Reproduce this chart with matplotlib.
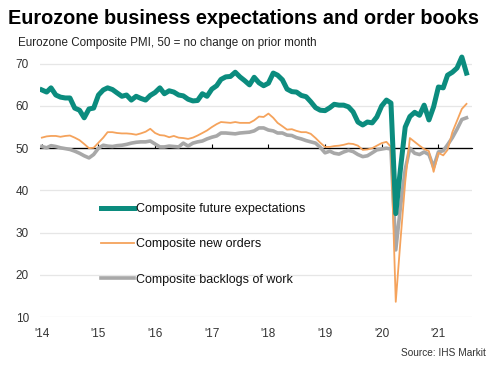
import matplotlib
matplotlib.use("Agg")
import matplotlib.pyplot as plt
from matplotlib.ticker import NullFormatter
import pandas as pd

plt.rcParams['font.family'] = ['Liberation Sans', 'DejaVu Sans']

months = pd.date_range("2014-01-01", periods=91, freq="MS")

future_expectations = [
    63.8, 63.3, 64.3, 62.6, 62.1, 61.9, 61.9, 59.5, 59.0, 57.2,
    59.3, 59.5, 62.6, 63.8, 64.3, 63.9, 63.1, 62.3, 62.6, 61.4,
    62.3, 61.8, 61.4, 62.5, 63.2, 64.3, 62.9, 63.6, 63.3, 62.6,
    62.4, 61.6, 61.2, 61.3, 62.9, 62.3, 64.0, 64.8, 66.3, 66.9,
    67.0, 68.0, 66.9, 66.0, 65.0, 66.8, 65.5, 64.8, 65.4, 67.8,
    67.3, 66.2, 64.0, 63.4, 63.3, 62.5, 62.2, 61.0, 59.6, 59.0,
    58.9, 59.6, 60.4, 60.2, 60.2, 59.8, 58.6, 56.2, 55.5, 56.2,
    56.0, 57.4, 60.0, 61.4, 60.7, 34.5, 45.0, 55.0, 57.5, 58.5,
    57.8, 60.2, 56.7, 59.8, 64.5, 64.3, 67.3, 68.0, 69.0, 71.6,
    67.8,
]

new_orders = [
    52.5, 52.8, 52.9, 52.9, 52.7, 52.9, 53.0, 52.5, 51.9, 51.0,
    50.0, 50.1, 51.3, 52.5, 53.8, 53.8, 53.6, 53.5, 53.5, 53.4,
    53.2, 53.5, 53.9, 54.6, 53.6, 53.1, 53.0, 52.6, 52.9, 52.5,
    52.4, 52.2, 52.5, 53.0, 53.6, 54.2, 55.0, 55.7, 56.2, 56.1,
    56.0, 56.2, 56.0, 56.0, 56.0, 56.6, 57.5, 57.4, 58.2, 57.2,
    56.0, 55.2, 54.4, 54.5, 54.1, 53.8, 53.8, 53.4, 52.4, 51.3,
    50.3, 50.3, 50.5, 50.6, 50.8, 51.1, 51.0, 50.6, 49.6, 49.7,
    50.0, 50.6, 51.2, 51.5, 50.3, 13.6, 28.0, 42.0, 52.4, 51.5,
    50.6, 49.8, 49.3, 44.4, 48.9, 48.3, 49.6, 53.8, 56.5, 59.3,
    60.5,
]

backlogs = [
    50.4, 50.1, 50.6, 50.4, 50.1, 49.9, 49.7, 49.3, 48.8, 48.2,
    47.7, 48.5, 50.0, 50.7, 50.5, 50.4, 50.6, 50.7, 50.9, 51.2,
    51.4, 51.5, 51.5, 51.7, 51.0, 50.3, 50.3, 50.5, 50.4, 50.3,
    51.2, 50.5, 51.2, 51.5, 51.7, 52.2, 52.6, 52.9, 53.6, 53.6,
    53.5, 53.4, 53.6, 53.7, 53.8, 54.1, 54.8, 54.8, 54.3, 54.1,
    53.6, 53.6, 53.1, 53.0, 52.5, 52.2, 51.8, 51.5, 51.2, 50.2,
    48.9, 49.3, 48.8, 48.6, 49.1, 49.5, 49.2, 48.5, 48.0, 48.2,
    48.9, 49.6, 49.8, 50.0, 49.8, 25.9, 36.0, 45.0, 50.0, 48.8,
    48.5, 49.1, 48.5, 45.5, 49.1, 49.4, 50.8, 52.5, 54.5, 56.8,
    57.2,
]

year_labels = ["'14", "'15", "'16", "'17", "'18", "'19", "'20", "'21"]
y_ticks = [10, 20, 30, 40, 50, 60, 70]

teal = '#0B8C7E'
orange = '#F5A35C'
grey = '#A8A8A8'

fig = plt.figure(figsize=(5.03, 3.67), dpi=100)
ax = fig.add_axes([0.0795, 0.1362, 0.859, 0.736])

ymin, ymax = 10, 74
ax.set_ylim(ymin, ymax)
ax.set_xlim(pd.Timestamp("2013-12-20"), pd.Timestamp("2021-08-06"))

for v in y_ticks:
    if v != 50:
        ax.axhline(v, color='#E6E6E6', lw=0.9, zorder=0)

ax.plot(months, backlogs, color=grey, lw=2.6, label='Composite backlogs of work', zorder=3)
ax.plot(months, new_orders, color=orange, lw=1.3, label='Composite new orders', zorder=4)
ax.plot(months, future_expectations, color=teal, lw=3.6, label='Composite future expectations', zorder=5)

ax.axhline(50, color='black', lw=0.9, zorder=2)

year_ticks = pd.date_range("2014-01-01", periods=len(year_labels), freq="YS")
ax.set_xticks(year_ticks)
ax.set_xticklabels(year_labels)
ax.set_yticks(y_ticks)
ax.tick_params(axis='both', length=0, labelsize=8.5, colors='#333333')
ax.tick_params(axis='x', pad=8)
ax.tick_params(axis='y', pad=8)
for s in ax.spines.values():
    s.set_visible(False)

sec = ax.secondary_xaxis((50 - ymin) / (ymax - ymin))
sec.set_xticks(year_ticks)
sec.xaxis.set_major_formatter(NullFormatter())
sec.tick_params(axis='x', length=3, width=0.8, color='black', direction='out')
sec.spines['bottom'].set_visible(False)

handles, labels = ax.get_legend_handles_labels()
order = [2, 1, 0]
leg = ax.legend([handles[i] for i in order], [labels[i] for i in order],
                loc='upper left', bbox_to_anchor=(0.142, 0.421), frameon=False,
                fontsize=9, handlelength=2.64, handletextpad=0.1,
                labelspacing=1.85, borderpad=0, borderaxespad=0)
for t in leg.get_texts():
    t.set_color('#111111')

fig.text(0.016, 0.935, "Eurozone business expectations and order books",
         fontsize=14.3, fontweight='bold', va='baseline', ha='left', color='black')
fig.text(0.036, 0.875, "Eurozone Composite PMI, 50 = no change on prior month",
         fontsize=8.35, va='baseline', ha='left', color='#222222')
fig.text(0.966, 0.03, "Source: IHS Markit", fontsize=7.3, va='baseline', ha='right',
         color='#333333')

fig.savefig("out.png", dpi=100)
